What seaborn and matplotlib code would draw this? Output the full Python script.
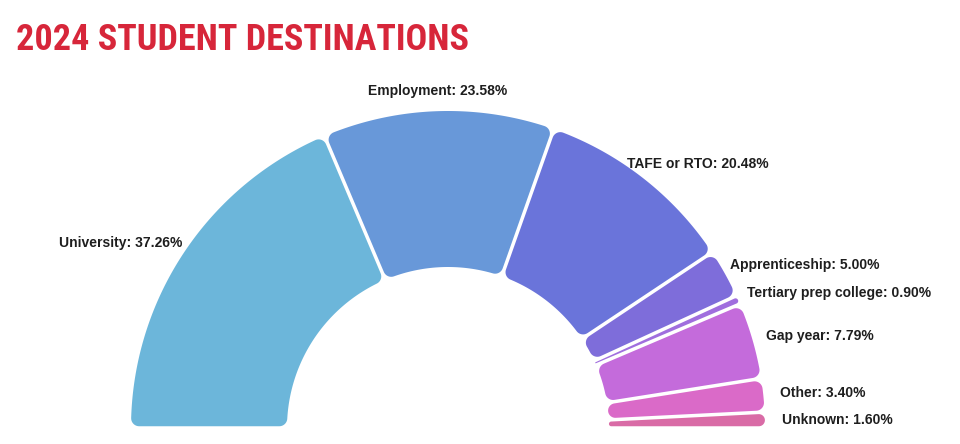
import numpy as np
import matplotlib
matplotlib.use("Agg")
import matplotlib.pyplot as plt
import seaborn as sns
from matplotlib.path import Path

# ---- data ----
categories = ["University", "Employment", "TAFE or RTO", "Apprenticeship",
              "Tertiary prep college", "Gap year", "Other", "Unknown"]
shares = [37.26, 23.58, 20.48, 5.00, 0.90, 7.79, 3.40, 1.60]
colors = ["#6CB6DA", "#6898D9", "#6A74DA", "#7E6DDA",
          "#A06EDE", "#C46BDB", "#DA6AC8", "#D96BA6"]
title = "2024 STUDENT DESTINATIONS"

sns.set_theme(style="white")
plt.rcParams["font.family"] = ["Liberation Sans", "DejaVu Sans"]

W, H = 960, 444
fig = plt.figure(figsize=(W / 100, H / 100), dpi=100)
ax = fig.add_axes([0, 0, 1, 1])

R_PX = 317.0          # outer radius in pixels
HOLE = 161.0 / R_PX   # inner radius (fraction)
GAP = 3.5 / R_PX      # gap between slices
RC = 8.0 / R_PX       # corner rounding

total = sum(shares)
wedges, _ = ax.pie(shares + [total], colors=colors + ["none"],
                   startangle=180, counterclock=False, radius=1.0,
                   wedgeprops=dict(width=1.0 - HOLE, linewidth=0))
wedges[-1].set_visible(False)


def rounded_sector(t1, t2, r0, r1, gap, rc):
    a1, a2 = np.radians(t1), np.radians(t2)
    h = gap / 2.0
    s = np.sin((a2 - a1) / 2.0)

    def fillet_r(rb, sign):
        lim = (s * rb - h) / (1.0 - sign * s)
        return max(0.0, min(rc, lim))

    def corner(a, side, rb, sign):
        u = np.array([np.cos(a), np.sin(a)])
        n = np.array([-np.sin(a), np.cos(a)]) if side == "A" else np.array([np.sin(a), -np.cos(a)])
        rr = fillet_r(rb, sign)
        rcen = rb + sign * rr
        d = h + rr
        along = np.sqrt(max(rcen ** 2 - d ** 2, 0.0))
        c = along * u + d * n
        tl = along * u + h * n
        ta = c * rb / rcen
        return c, rr, tl, ta

    def arc_pts(c, p1, p2, k=12):
        g1 = np.arctan2(*(p1 - c)[::-1])
        g2 = np.arctan2(*(p2 - c)[::-1])
        diff = (g2 - g1 + np.pi) % (2 * np.pi) - np.pi
        rr = np.hypot(*(p1 - c))
        ts = g1 + np.linspace(0, 1, k) * diff
        return np.column_stack([c[0] + rr * np.cos(ts), c[1] + rr * np.sin(ts)])

    def big_arc(rb, p1, p2, k=80):
        g1 = np.arctan2(p1[1], p1[0])
        g2 = np.arctan2(p2[1], p2[0])
        ts = np.linspace(g1, g2, k)
        return np.column_stack([rb * np.cos(ts), rb * np.sin(ts)])

    cAo, _, tlAo, taAo = corner(a1, "A", r1, -1)
    cBo, _, tlBo, taBo = corner(a2, "B", r1, -1)
    cAi, _, tlAi, taAi = corner(a1, "A", r0, +1)
    cBi, _, tlBi, taBi = corner(a2, "B", r0, +1)

    pts = [tlAi[None, :], tlAo[None, :],
           arc_pts(cAo, tlAo, taAo),
           big_arc(r1, taAo, taBo),
           arc_pts(cBo, taBo, tlBo),
           tlBi[None, :],
           arc_pts(cBi, tlBi, taBi),
           big_arc(r0, taBi, taAi),
           arc_pts(cAi, taAi, tlAi)]
    v = np.vstack(pts)
    v = np.vstack([v, v[:1]])
    codes = [Path.MOVETO] + [Path.LINETO] * (len(v) - 2) + [Path.CLOSEPOLY]
    return Path(v, codes)


LABEL_R = 1.054
LABEL_PULL = 0.132
for w, cat, val in zip(wedges[:-1], categories, shares):
    r1 = w.r
    r0 = w.r - w.width
    w._path = rounded_sector(w.theta1, w.theta2, r0, r1, GAP, RC)
    mid = np.radians((w.theta1 + w.theta2) / 2.0)
    c, s = np.cos(mid), np.sin(mid)
    y = LABEL_R * s
    if c > 0.3:
        ha, x = "left", LABEL_R * c - LABEL_PULL * s ** 2
    elif c < -0.3:
        ha, x = "right", LABEL_R * c + LABEL_PULL * s ** 2
    else:
        ha, x, y = "center", LABEL_R * c, y + 0.01
    ax.text(x, y, f"{cat}: {val:.2f}%", ha=ha, va="center", fontsize=10,
            fontweight="bold", color="#1E1E1E")

cx_px, cy_px = 448.0, 16.0
ax.set_aspect("auto")
ax.set_xlim(-cx_px / R_PX, (W - cx_px) / R_PX)
ax.set_ylim(-cy_px / R_PX, (H - cy_px) / R_PX)
ax.axis("off")

fig.text(16 / W, 1 - 50 / H, title, ha="left", va="baseline",
         fontsize=26, fontweight="bold", color="#D7263A",
         family=["Roboto Condensed", "DejaVu Sans"])

fig.savefig("out.png", dpi=100)
